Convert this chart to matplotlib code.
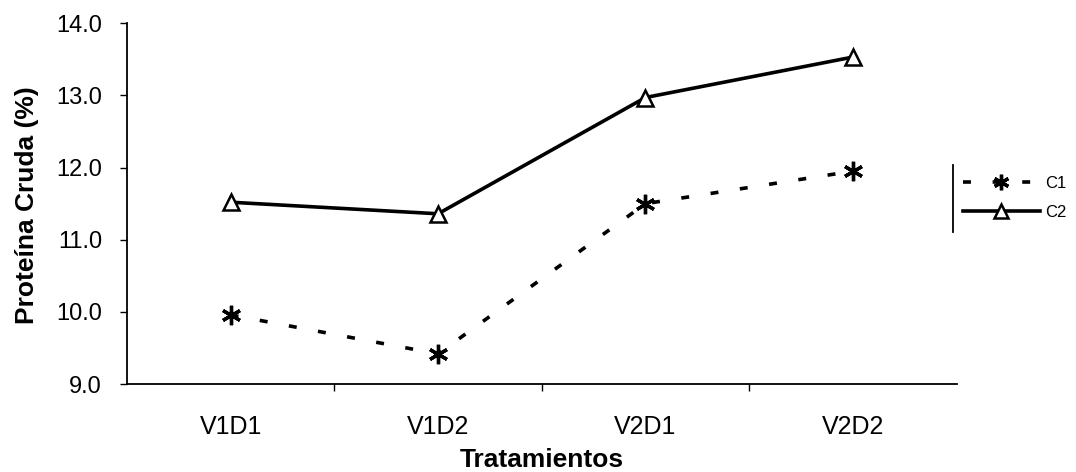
import matplotlib.pyplot as plt
from matplotlib.lines import Line2D

# data
tratamientos = ["V1D1", "V1D2", "V2D1", "V2D2"]
c1 = [9.96, 9.42, 11.50, 11.95]
c2 = [11.52, 11.36, 12.97, 13.53]
yticks = [9.0, 10.0, 11.0, 12.0, 13.0, 14.0]

plt.rcParams['font.family'] = ['Liberation Sans', 'DejaVu Sans']

fig = plt.figure(figsize=(10.76, 4.72), dpi=100)
ax = fig.add_axes([0.118, 0.186, 0.771, 0.765])

x = range(len(tratamientos))
ax.plot(x, c1, color='black', lw=2.6, linestyle=(0, (2.2, 6.0)),
        marker=(6, 2, 0), markersize=14, markeredgewidth=2.4, label='C1')
ax.plot(x, c2, color='black', lw=2.6, linestyle='-',
        marker='^', markersize=12, markerfacecolor='white',
        markeredgecolor='black', markeredgewidth=1.8, label='C2')

ax.set_xlim(-0.5, len(tratamientos) - 0.5)
ax.set_ylim(9.0, 14.0)
ax.set_yticks(yticks)
ax.set_yticklabels([f"{v:.1f}" for v in yticks])
ax.set_xticks(list(x))
ax.set_xticklabels(tratamientos)
ax.set_xticks([i + 0.5 for i in range(len(tratamientos) - 1)], minor=True)
ax.tick_params(axis='x', which='major', length=0, pad=22, labelsize=18)
ax.tick_params(axis='x', which='minor', length=5, width=1, direction='out')
ax.tick_params(axis='y', length=5, width=1, direction='out', labelsize=17, pad=13)

for s in ['top', 'right']:
    ax.spines[s].set_visible(False)
ax.spines['left'].set_linewidth(1.3)
ax.spines['bottom'].set_linewidth(1.3)

ax.set_xlabel("Tratamientos", fontsize=19, fontweight='bold')
ax.set_ylabel("Proteína Cruda (%)", fontsize=19, fontweight='bold')
ax.xaxis.set_label_coords(0.5, -0.178)
ax.yaxis.set_label_coords(-0.106, 0.496)

leg = fig.legend(handles=ax.get_lines(), loc='center left',
                 bbox_to_anchor=(0.895, 0.580), frameon=False, fontsize=12,
                 handlelength=4.6, handletextpad=0.3, labelspacing=0.85,
                 borderaxespad=0, borderpad=0, markerscale=0.8)
fig.add_artist(Line2D([0.886, 0.886], [0.508, 0.650], color='black', lw=1.3,
                      transform=fig.transFigure))

fig.savefig("out.png", dpi=100)
